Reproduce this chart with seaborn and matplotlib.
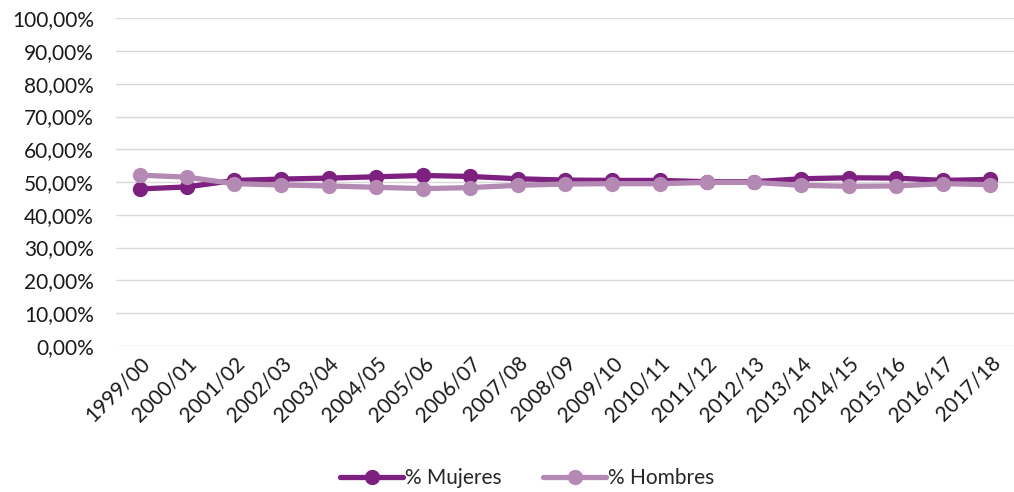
import pandas as pd
import matplotlib
matplotlib.use("Agg")
import matplotlib.pyplot as plt
import seaborn as sns
from matplotlib.ticker import FuncFormatter, MultipleLocator

# Data (percent)
cursos = ["1999/00", "2000/01", "2001/02", "2002/03", "2003/04", "2004/05",
          "2005/06", "2006/07", "2007/08", "2008/09", "2009/10", "2010/11",
          "2011/12", "2012/13", "2013/14", "2014/15", "2015/16", "2016/17",
          "2017/18"]
mujeres = [47.9, 48.5, 50.5, 50.9, 51.2, 51.6, 52.0, 51.7, 51.0, 50.6, 50.5,
           50.5, 50.1, 50.1, 51.0, 51.3, 51.2, 50.5, 50.8]
hombres = [52.1, 51.5, 49.5, 49.1, 48.8, 48.4, 48.0, 48.3, 49.0, 49.4, 49.5,
           49.5, 49.9, 49.9, 49.0, 48.7, 48.8, 49.5, 49.2]
series = ["% Mujeres", "% Hombres"]
colores = ["#7E2080", "#B48AB4"]

df = pd.DataFrame({
    "curso": cursos * 2,
    "valor": mujeres + hombres,
    "serie": [series[0]] * len(cursos) + [series[1]] * len(cursos),
})

sns.set_style("white")
plt.rcParams["font.family"] = ["Lato", "DejaVu Sans"]

fig = plt.figure(figsize=(10.14, 4.92), dpi=100)
ax = fig.add_axes([0.1144, 0.297, 0.8856, 0.666])

sns.lineplot(data=df, x="curso", y="valor", hue="serie", palette=colores,
             sort=False, marker="o", markersize=11, markeredgewidth=0,
             linewidth=3.8, ax=ax)

ax.set_ylim(0, 100)
ax.set_xlim(-0.5, len(cursos) - 0.5)
ax.yaxis.set_major_locator(MultipleLocator(10))
ax.yaxis.set_major_formatter(FuncFormatter(lambda v, p: f"{v:.2f}%".replace(".", ",")))
ax.grid(axis="y", color="#D9D9D9", linewidth=1)
ax.set_axisbelow(True)
for s in ax.spines.values():
    s.set_visible(False)
ax.tick_params(axis="both", length=0, labelsize=15, colors="#1a1a1a")
ax.tick_params(axis="y", pad=16)
ax.tick_params(axis="x", pad=5)
ax.set_xticks(range(len(cursos)))
ax.set_xticklabels(cursos, rotation=45, ha="right", rotation_mode="anchor")
ax.set_xlabel("")
ax.set_ylabel("")

handles, labels = ax.get_legend_handles_labels()
ax.legend_.remove()
fig.legend(handles, labels, loc="center", bbox_to_anchor=(0.52, 0.028), ncol=2,
           frameon=False, fontsize=15, handlelength=3.0, columnspacing=2.0,
           handletextpad=0.1)

fig.savefig("out.png", dpi=100)
